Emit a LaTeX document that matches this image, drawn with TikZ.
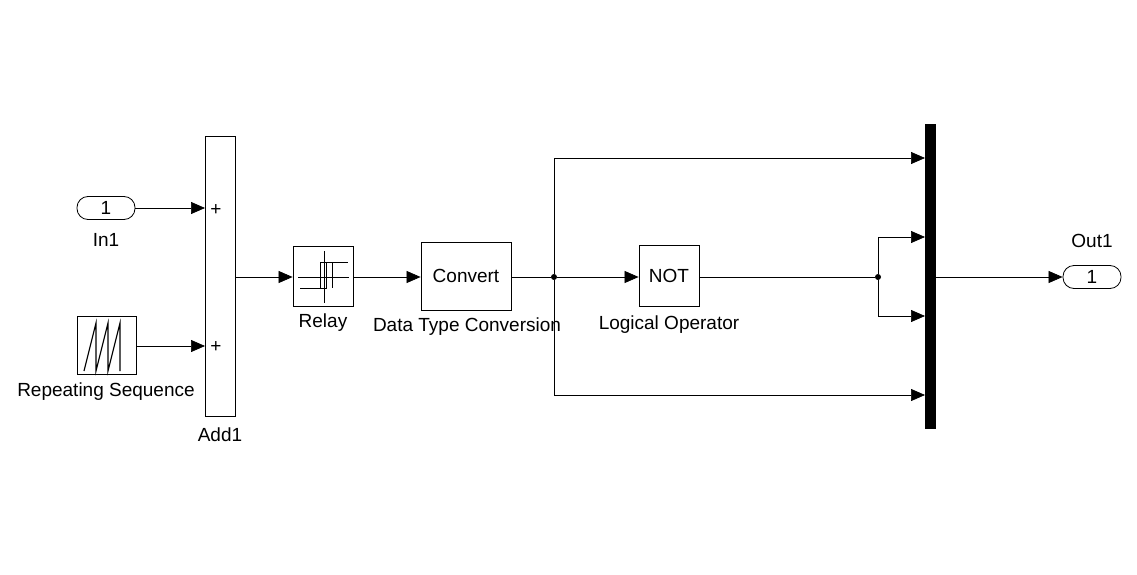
\documentclass[tikz,border=0pt]{standalone}
\usepackage{fontspec}
\setmainfont{Liberation Sans}
\usetikzlibrary{arrows.meta}
\begin{document}
\begin{tikzpicture}[x=1pt,y=-1pt,
  every node/.style={font=\fontsize{19}{21}\selectfont},
  blk/.style={draw,line width=0.8pt,fill=white,inner sep=0pt},
  port/.style={draw,line width=0.8pt,rounded corners=11pt,minimum width=58pt,minimum height=23pt,inner sep=0pt},
  lbl/.style={inner sep=0pt},
  sig/.style={line width=0.7pt,-{Triangle[length=14pt,width=12pt]}},
  wire/.style={line width=0.7pt},
  dot/.style={circle,fill,inner sep=0pt,minimum size=6pt}]
\useasboundingbox (0,0) rectangle (1137,575);
% blocks
\node[port] (in1) at (106,208) {1};
\node[lbl] (in1l) at (106,240) {In1};
\node[blk,minimum width=59pt,minimum height=58pt] (rep) at (106.5,345) {};
\draw[line width=1.1pt] (84,371) -- (96,323) -- (96,371) -- (108,323) -- (108,371) -- (120,323) -- (120,371);
\node[lbl] (repl) at (106,392) {Repeating Sequence};
\node[blk,minimum width=30pt,minimum height=280pt] (add) at (220,276) {};
\node[lbl] at (216,210) {+};
\node[lbl] at (216,347) {+};
\node[lbl] (addl) at (220,435) {Add1};
\node[blk,minimum width=60pt,minimum height=60pt] (relay) at (323,276) {};
\draw[line width=0.8pt] (298,277) -- (349,277) (324,251) -- (324,303)
  (300,288) -- (326,288) -- (326,262) -- (348,262)
  (320,288) -- (320,262) -- (332,262) -- (332,288);
\node[lbl] (relayl) at (323,323) {Relay};
\node[blk,minimum width=90pt,minimum height=68pt] (conv) at (466,276) {Convert};
\node[lbl] (convl) at (467,327) {Data Type Conversion};
\node[blk,minimum width=60pt,minimum height=61pt] (not) at (669,275.5) {NOT};
\node[lbl] (notl) at (669,325) {Logical Operator};
\node[draw,fill,minimum width=10pt,minimum height=304pt,inner sep=0pt] (mux) at (930,276) {};
\node[port] (out1) at (1092,277) {1};
\node[lbl] (out1l) at (1092,241) {Out1};
% junctions
\node[dot] (j1) at (554,277) {};
\node[dot] (j2) at (878,277) {};
\coordinate (m1) at (925,158);
\coordinate (m2) at (925,237);
\coordinate (m3) at (925,316);
\coordinate (m4) at (925,395);
% wires
\draw[sig] (in1.east) -- (205,208);
\draw[sig] (rep.east |- 0,346) -- (205,346);
\draw[sig] (235,277) -- (relay.west |- 0,277);
\draw[sig] (353,277) -- (conv.west |- 0,277);
\draw[wire] (511,277) -- (j1);
\draw[sig] (j1) -- (not.west |- j1);
\draw[sig] (j1) |- (m1);
\draw[sig] (j1) |- (m4);
\draw[wire] (699,277) -- (j2);
\draw[sig] (j2) |- (m2);
\draw[sig] (j2) |- (m3);
\draw[sig] (935,277) -- (out1.west);
\end{tikzpicture}
\end{document}
